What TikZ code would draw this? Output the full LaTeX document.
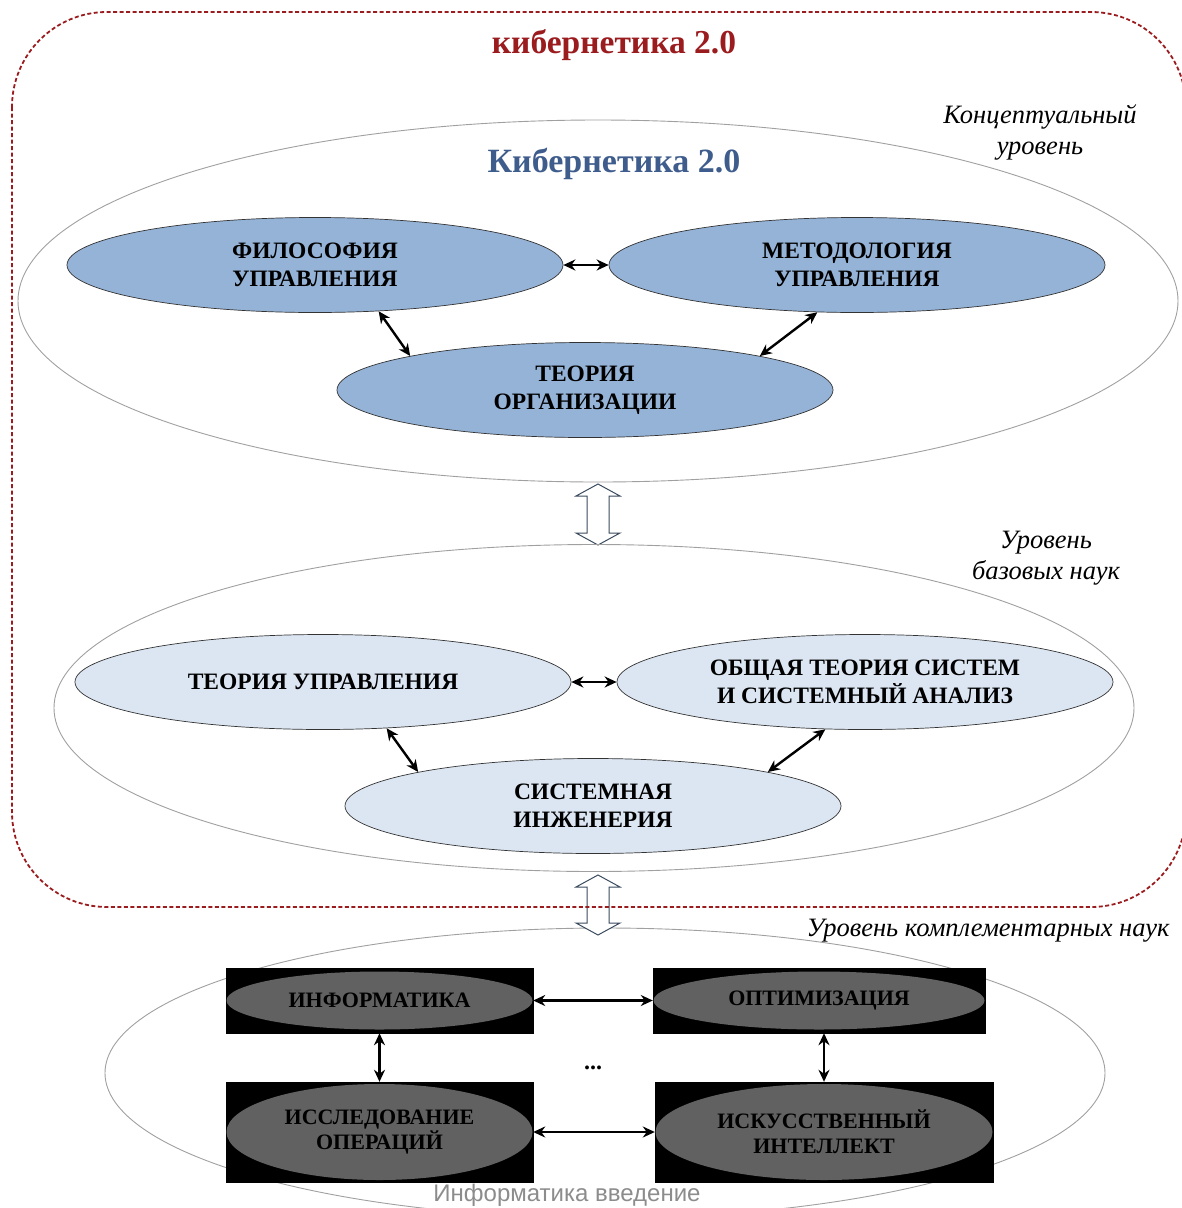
\documentclass[tikz,border=0pt]{standalone}
\usepackage{fontspec}
\setmainfont{Liberation Serif}
\newfontfamily\capfont{Liberation Sans}
\usetikzlibrary{shapes.geometric,arrows.meta}
\definecolor{dred}{HTML}{9B1C1F}
\definecolor{tblue}{HTML}{3F5D8C}
\definecolor{midblue}{HTML}{95B3D7}
\definecolor{ltblue}{HTML}{DCE6F2}
\definecolor{ellline}{HTML}{A0A0A0}
\definecolor{hollowline}{HTML}{3B4B5E}
\tikzset{
  bigell/.style={draw=ellline, line width=0.9pt, shape=ellipse, inner sep=0pt},
  topell/.style={draw=black!80, line width=0.7pt, shape=ellipse, fill=midblue,
     minimum width=496pt, minimum height=95pt, inner sep=0pt, align=center,
     font=\fontsize{23.5}{28}\selectfont\bfseries},
  baseell/.style={topell, fill=ltblue},
  darkbox/.style={fill=black, draw=black, inner sep=0pt},
  darkell/.style={shape=ellipse, fill=black!62, inner sep=0pt, align=center,
     font=\fontsize{22}{25}\selectfont\bfseries},
  biarrow/.style={{Stealth[length=12pt,width=11pt]}-{Stealth[length=12pt,width=11pt]}, line width=2.4pt},
  hollow/.style={draw=hollowline, line width=1pt, fill=white, line join=miter},
  levellabel/.style={font=\fontsize{26.5}{31}\selectfont\itshape, align=center},
  frame/.style={dred, line width=1.8pt, dash pattern=on 4pt off 2.5pt},
}
\begin{document}
\begin{tikzpicture}[x=1pt,y=-1pt]
\useasboundingbox (0,0) rectangle (1182,1208);
\node[text=dred, font=\fontsize{33.5}{38}\selectfont\bfseries] (t1) at (614,45) {кибернетика 2.0};

% conceptual level
\node[bigell, minimum width=1160pt, minimum height=362pt] (conc) at (598,301) {};
\node[text=tblue, font=\fontsize{34}{38}\selectfont\bfseries] (t2) at (614,164) {Кибернетика 2.0};
\node[levellabel] (lab1) at (1040,132) {Концептуальный\\уровень};
\node[topell] (phil) at (315,265) {ФИЛОСОФИЯ\\УПРАВЛЕНИЯ};
\node[topell] (meth) at (857,265) {МЕТОДОЛОГИЯ\\УПРАВЛЕНИЯ};
\node[topell] (org) at (585,390) {ТЕОРИЯ\\ОРГАНИЗАЦИИ};
\draw[biarrow] (phil.east) -- (meth.west);
\draw[biarrow] (phil.-36) -- (org.169);
\draw[biarrow] (meth.230) -- (org.11);

% hollow arrow 1
\draw[hollow] (598,484) -- (620,496) -- (609,496) -- (609,533) -- (620,533) -- (598,545)
  -- (576,533) -- (587,533) -- (587,496) -- (576,496) -- cycle;

% base level
\node[bigell, minimum width=1080pt, minimum height=327pt] (base) at (594,708) {};
\node[levellabel] (lab2) at (1046,558) {Уровень\\базовых наук};
\node[baseell] (ctrl) at (323,682) {ТЕОРИЯ УПРАВЛЕНИЯ};
\node[baseell] (sys) at (865,682) {ОБЩАЯ ТЕОРИЯ СИСТЕМ\\И СИСТЕМНЫЙ АНАЛИЗ};
\node[baseell] (eng) at (593,806) {СИСТЕМНАЯ\\ИНЖЕНЕРИЯ};
\draw[biarrow] (ctrl.east) -- (sys.west);
\draw[biarrow] (ctrl.-36) -- (eng.169);
\draw[biarrow] (sys.230) -- (eng.11);

% complementary level
\node[bigell, minimum width=1000pt, minimum height=290pt] (comp) at (605,1073) {};
\draw[hollow] (598,875) -- (620,887) -- (609,887) -- (609,923) -- (620,923) -- (598,935)
  -- (576,923) -- (587,923) -- (587,887) -- (576,887) -- cycle;
\node[font=\fontsize{26.5}{30}\selectfont\itshape] (lab3) at (988,931) {Уровень комплементарных наук};

% outer dashed frame
\draw[frame, rounded corners=95pt] (12,12) rectangle (1186,907);

\node[darkbox, minimum width=307pt, minimum height=65pt] (inf) at (379.5,1000.5) {};
\node[darkell, minimum width=306pt, minimum height=58pt] (infE) at (inf) {ИНФОРМАТИКА};
\node[darkbox, minimum width=332pt, minimum height=65pt] (opt) at (819,1000.5) {};
\node[darkell, minimum width=331pt, minimum height=58pt] (optE) at (opt) {ОПТИМИЗАЦИЯ};
\node[darkbox, minimum width=307pt, minimum height=100pt] (iss) at (379.5,1132) {};
\node[darkell, minimum width=306pt, minimum height=96pt] (issE) at (iss) {ИССЛЕДОВАНИЕ\\ОПЕРАЦИЙ};
\node[darkbox, minimum width=338pt, minimum height=100pt] (isk) at (824,1132) {};
\node[darkell, minimum width=337pt, minimum height=96pt] (iskE) at (isk) {ИСКУССТВЕННЫЙ\\ИНТЕЛЛЕКТ};
\draw[biarrow] (inf.east) -- (opt.west);
\draw[biarrow] (iss.east) -- (isk.west);
\draw[biarrow] (inf.south) -- (iss.north);
\draw[biarrow] (isk.north |- opt.south) -- (isk.north);
\node[font=\fontsize{24}{24}\selectfont\bfseries] (dots) at (593,1068) {...};

\node[fill=white, inner sep=1pt, text=black!45, font=\capfont\fontsize{24}{26}\selectfont] (cap) at (567,1195) {Информатика введение};
\end{tikzpicture}
\end{document}
